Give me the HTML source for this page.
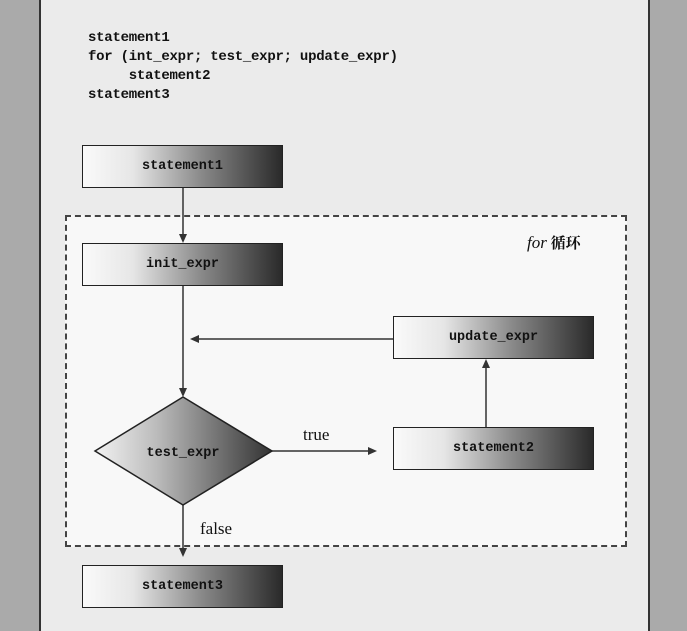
<!DOCTYPE html>
<html><head><meta charset="utf-8"><style>
body{margin:0;width:687px;height:631px;background:#aaaaaa;position:relative;overflow:hidden;font-family:"Liberation Sans","Noto Sans CJK SC",sans-serif}
.page{position:absolute;left:39px;top:0;width:607px;height:631px;background:#ebebeb;border-left:2px solid #333;border-right:2px solid #333}
.code{position:absolute;left:88px;top:29px;font:bold 14px/19px "Liberation Mono",monospace;color:#111;letter-spacing:-0.25px}
.box{position:absolute;width:199px;height:41px;border:1.5px solid #222;background:linear-gradient(90deg,#fafafa 0%,#e6e6e6 25%,#888 60%,#2a2a2a 100%);display:flex;align-items:center;justify-content:center;font:bold 13.5px "Liberation Mono",monospace;color:#111}
.dash{position:absolute;left:65px;top:215px;width:558px;height:328px;border:2px dashed #444;background:#f8f8f8}
</style></head><body>
<div class="page"></div>
<div class="code">statement1<br>for (int_expr; test_expr; update_expr)<br>&nbsp;&nbsp;&nbsp;&nbsp;&nbsp;statement2<br>statement3</div>
<div class="dash"></div>
<div style="position:absolute;left:527px;top:232px;font:italic 17px 'Liberation Serif','Noto Serif CJK SC',serif;color:#111">for<span style="font-style:normal;font-weight:bold;font-size:15px"> 循环</span></div>
<div class="box" style="left:82px;top:145px">statement1</div>
<div class="box" style="left:82px;top:243px">init_expr</div>
<div class="box" style="left:393px;top:316px">update_expr</div>
<div class="box" style="left:393px;top:427px">statement2</div>
<div class="box" style="left:82px;top:565px">statement3</div>
<svg style="position:absolute;left:0;top:0" width="687" height="631">
<defs><linearGradient id="g" x1="0" x2="1"><stop offset="0" stop-color="#f2f2f2"/><stop offset="0.35" stop-color="#bbb"/><stop offset="1" stop-color="#333"/></linearGradient></defs>
<g stroke="#333" stroke-width="1.5" fill="#333">
<line x1="183" y1="188" x2="183" y2="238"/><polygon points="179,234 187,234 183,243" stroke="none"/>
<line x1="183" y1="286" x2="183" y2="392"/><polygon points="179,388 187,388 183,397" stroke="none"/>
<line x1="393" y1="339" x2="195" y2="339"/><polygon points="199,335 199,343 190,339" stroke="none"/>
<line x1="272" y1="451" x2="372" y2="451"/><polygon points="368,447 368,455 377,451" stroke="none"/>
<line x1="486" y1="427" x2="486" y2="364"/><polygon points="482,368 490,368 486,359" stroke="none"/>
<line x1="183" y1="505" x2="183" y2="552"/><polygon points="179,548 187,548 183,557" stroke="none"/>
</g>
<polygon points="183,397 272,451 183,505 95,451" fill="url(#g)" stroke="#222" stroke-width="1.5"/>
<text x="183" y="456" text-anchor="middle" font-family="Liberation Mono" font-weight="bold" font-size="13.5" fill="#111">test_expr</text>
<text x="303" y="440" font-family="Liberation Serif" font-size="17" fill="#111">true</text>
<text x="200" y="534" font-family="Liberation Serif" font-size="17" fill="#111">false</text>
</svg>
</body></html>
